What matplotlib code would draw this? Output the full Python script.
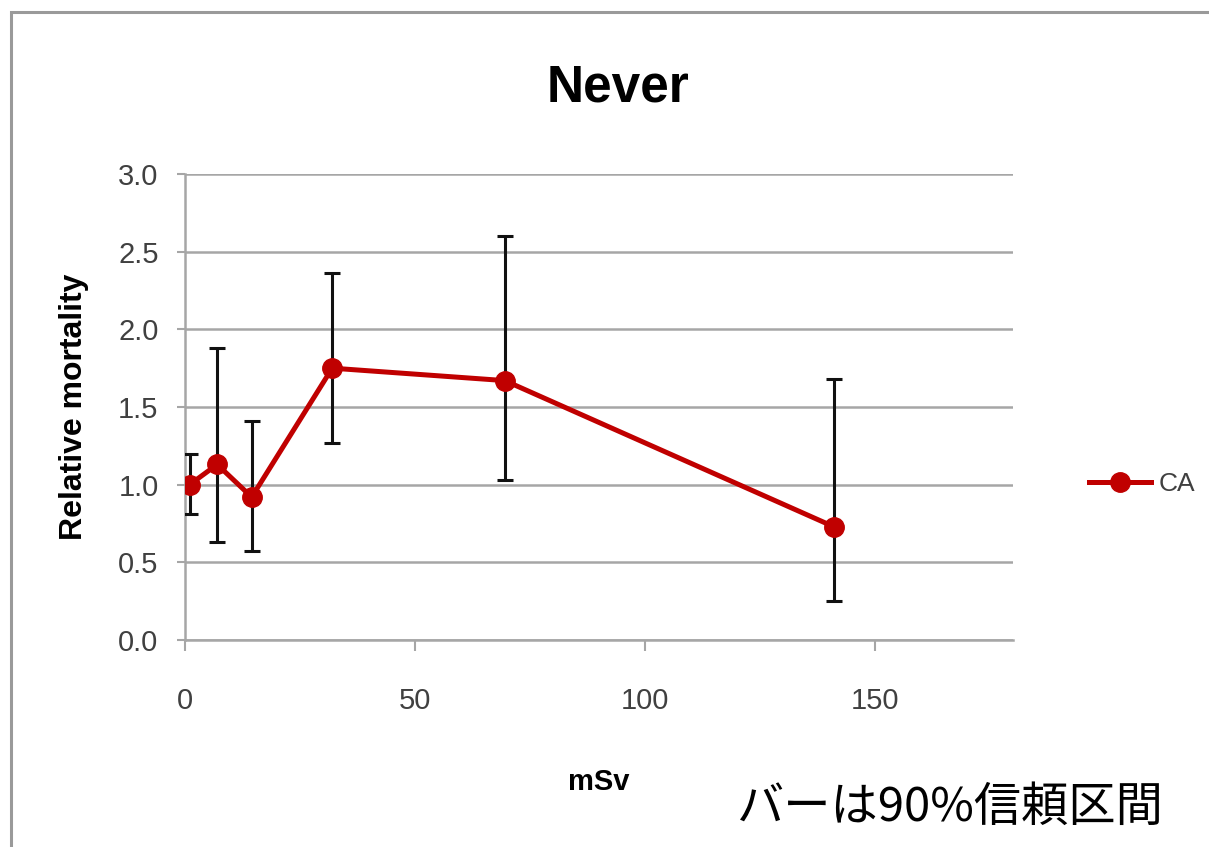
import matplotlib
matplotlib.use('Agg')
import matplotlib.pyplot as plt
from matplotlib.patches import Rectangle

# dose (mSv) vs relative mortality, never-smokers, with 90% CI
dose = [1, 7, 14.5, 32, 69.5, 141]
rel_mort = [1.00, 1.13, 0.92, 1.75, 1.67, 0.73]
ci_low = [0.81, 0.63, 0.57, 1.27, 1.03, 0.25]
ci_high = [1.20, 1.88, 1.41, 2.36, 2.60, 1.68]

series_name = 'CA'
x_ticks = [0, 50, 100, 150]
y_ticks = [0.0, 0.5, 1.0, 1.5, 2.0, 2.5, 3.0]

LATIN = ['Liberation Sans', 'DejaVu Sans']
CJK = ['Noto Sans CJK JP', 'DejaVu Sans']
plt.rcParams['font.family'] = LATIN

W, H = 1209, 847
fig = plt.figure(figsize=(W / 100, H / 100), dpi=100)
fig.patch.set_facecolor('white')

# outer chart frame (only left and top edges fall inside the canvas)
fig.patches.append(Rectangle((11 / W, -0.1), 1.2, 1.1 - 12 / H,
                             transform=fig.transFigure, fill=False,
                             edgecolor='#9a9a9a', linewidth=2.2))

ax = fig.add_axes([185 / W, 1 - 640 / H, (1013 - 185) / W, (640 - 174) / H])

grey = '#a6a6a6'
err_lo = [m - l for m, l in zip(rel_mort, ci_low)]
err_hi = [h - m for m, h in zip(rel_mort, ci_high)]
ax.errorbar(dose, rel_mort, yerr=[err_lo, err_hi], fmt='none',
            ecolor='#111111', elinewidth=2.2, capsize=6, capthick=2.2, zorder=3)
ax.plot(dose, rel_mort, color='#c00000', linewidth=3.6, marker='o',
        markersize=14, zorder=4, label=series_name)

ax.set_xlim(0, 180)
ax.set_ylim(0, 3.0)
ax.set_xticks(x_ticks)
ax.set_yticks(y_ticks)
ax.set_yticklabels([f'{v:.1f}' for v in y_ticks])
ax.grid(axis='y', color=grey, linewidth=1.8, zorder=0)
ax.set_axisbelow(True)
for s in ['top', 'right']:
    ax.spines[s].set_visible(False)
ax.spines['left'].set_color(grey)
ax.spines['bottom'].set_color(grey)
ax.spines['left'].set_linewidth(1.8)
ax.spines['bottom'].set_linewidth(1.8)
ax.tick_params(axis='y', length=6, width=1.5, color=grey, pad=13,
               labelsize=21, labelcolor='#404040')
ax.tick_params(axis='x', length=8, width=1.5, color=grey, pad=26,
               labelsize=21, labelcolor='#404040')

ax.set_ylabel('Relative mortality', fontsize=23, fontweight='bold')
ax.yaxis.set_label_coords(-0.116, 0.5)
fig.text(599 / W, 1 - 782 / H, 'mSv', fontsize=21, fontweight='bold',
         ha='center', va='center')
fig.text(618 / W, 1 - 88 / H, 'Never', fontsize=37, fontweight='bold',
         ha='center', va='center')

ax.legend(loc='center left', bbox_to_anchor=(1.063, 0.335), frameon=False,
          fontsize=19, handlelength=2.35, handletextpad=0.3,
          labelcolor='#404040')

fig.text(950 / W, 1 - 808 / H, 'バーは90%信頼区間', family=CJK, fontsize=34,
         ha='center', va='center')

fig.savefig('out.png', dpi=100)
